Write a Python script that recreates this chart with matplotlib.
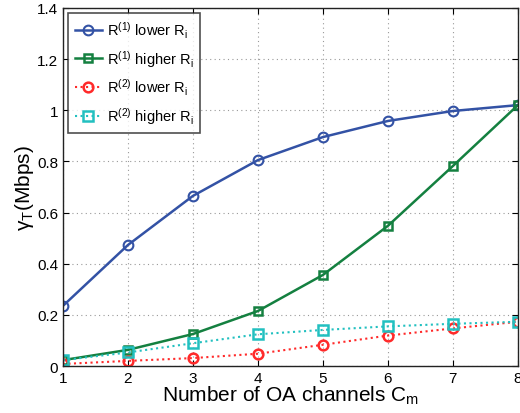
import matplotlib
matplotlib.use("Agg")
import matplotlib.pyplot as plt

x = [1, 2, 3, 4, 5, 6, 7, 8]
r1_lower = [0.235, 0.473, 0.665, 0.805, 0.895, 0.958, 0.997, 1.02]
r1_higher = [0.023, 0.063, 0.125, 0.215, 0.356, 0.548, 0.782, 1.02]
r2_lower = [0.008, 0.02, 0.031, 0.048, 0.083, 0.119, 0.147, 0.173]
r2_higher = [0.023, 0.053, 0.089, 0.124, 0.141, 0.155, 0.165, 0.173]
labels = [r"R$^{(1)}$ lower R$_{\rm i}$", r"R$^{(1)}$ higher R$_{\rm i}$",
          r"R$^{(2)}$ lower R$_{\rm i}$", r"R$^{(2)}$ higher R$_{\rm i}$"]

plt.rcParams['font.family'] = ['Liberation Sans', 'DejaVu Sans']
plt.rcParams['mathtext.fontset'] = 'custom'
plt.rcParams['mathtext.rm'] = 'Liberation Sans'
plt.rcParams['mathtext.it'] = 'Liberation Sans:italic'

fig = plt.figure(figsize=(5.2, 4.14), dpi=100)
ax = fig.add_axes([0.121, 0.1135, 0.875, 0.865])

ax.plot(x, r1_lower, '-', color='#3352a5', lw=1.8, marker='o', ms=7, mfc='none', mew=1.5, label=labels[0])
ax.plot(x, r1_higher, '-', color='#148040', lw=1.8, marker='s', ms=5.5, mfc='none', mew=1.8, label=labels[1])
ax.plot(x, r2_lower, ':', color='#ff2a2a', lw=1.5, marker='o', ms=7, mfc='none', mew=1.8, label=labels[2])
ax.plot(x, r2_higher, ':', color='#22c0c0', lw=1.5, marker='s', ms=6.5, mfc='none', mew=1.8, label=labels[3])

ax.set_xlim(1, 8)
ax.set_ylim(0, 1.4)
ax.set_xticks(x)
ax.set_yticks([0, 0.2, 0.4, 0.6, 0.8, 1, 1.2, 1.4])
ax.set_yticklabels(['0', '0.2', '0.4', '0.6', '0.8', '1', '1.2', '1.4'])
ax.grid(True, linestyle=(0, (1, 3)), color='#999999', lw=0.8)
ax.tick_params(direction='in', labelsize=11, top=True, right=True, length=4)
for s in ax.spines.values():
    s.set_linewidth(1.0)
    s.set_color('#222222')

ax.set_xlabel(r"Number of OA channels C$_{\rm m}$", fontsize=15, labelpad=-1)
ax.set_ylabel("γ" + r"$_{\rm T}$(Mbps)", fontsize=15, labelpad=1)

leg = ax.legend(loc='upper left', fontsize=10.5, frameon=True, fancybox=False,
                edgecolor='#222222', handlelength=1.9, handletextpad=0.3,
                borderaxespad=0.35, labelspacing=0.55, borderpad=0.45)
leg.get_frame().set_linewidth(1.2)

fig.savefig("out.png", dpi=100)
